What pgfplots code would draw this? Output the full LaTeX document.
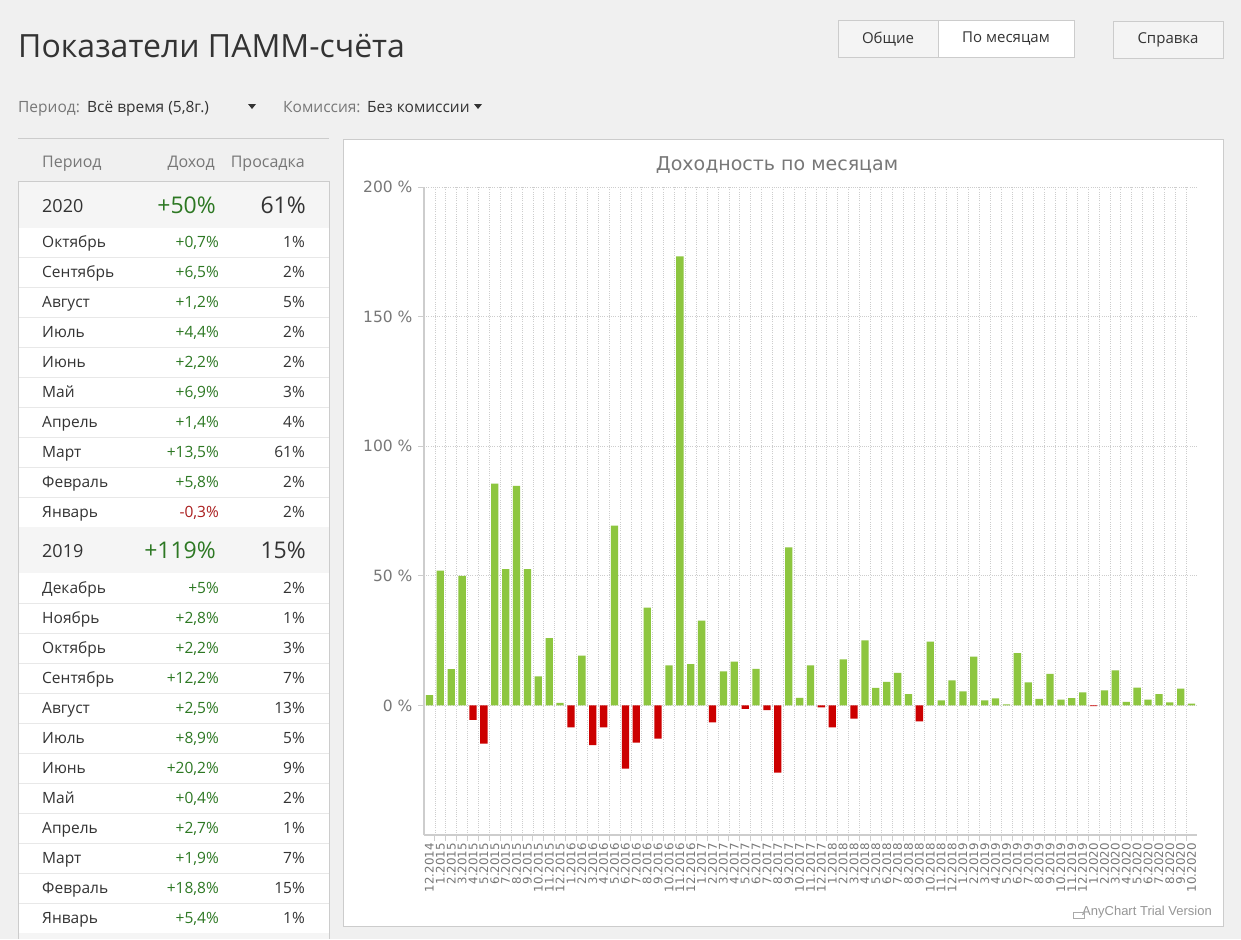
\documentclass[border=0pt]{standalone}
\usepackage{pgfplots}
\pgfplotsset{compat=1.18}
\usepackage{pgfplotstable}
\usepackage{fontspec}
\setmainfont{Open Sans}
\newfontfamily\ui{Open Sans}
\newfontfamily\ac{DejaVu Sans}
\newfontfamily\ar{Liberation Sans}
\newcommand\fs[1]{\fontsize{#1}{#1}\selectfont}

\definecolor{pagebg}{RGB}{240,240,240}
\definecolor{txt}{RGB}{51,51,51}
\definecolor{lbl}{RGB}{119,119,119}
\definecolor{gtxt}{RGB}{45,120,35}
\definecolor{rtxt}{RGB}{170,30,30}
\definecolor{barg}{RGB}{141,198,63}
\definecolor{barr}{RGB}{204,0,0}
\definecolor{rowsep}{RGB}{232,232,232}
\definecolor{yearbg}{RGB}{245,245,245}
\definecolor{boxline}{RGB}{204,204,204}
\definecolor{axgrey}{RGB}{205,205,205}
\definecolor{gridgrey}{RGB}{205,205,205}
\definecolor{btnbg}{RGB}{244,244,244}
\definecolor{trial}{RGB}{150,150,150}
\definecolor{trialicon}{RGB}{170,170,170}

% monthly return, %, 12.2014 ... 10.2020
\pgfplotstableread{
i v
0 4.0
1 52.0
2 14.0
3 50.0
4 -5.6
5 -14.7
6 85.6
7 52.6
8 84.7
9 52.6
10 11.2
11 26.0
12 1.0
13 -8.5
14 19.2
15 -15.3
16 -8.5
17 69.4
18 -24.4
19 -14.4
20 37.7
21 -12.8
22 15.4
23 173.2
24 15.9
25 32.7
26 -6.5
27 13.1
28 16.9
29 -1.3
30 14.1
31 -1.8
32 -25.9
33 61.0
34 2.9
35 15.4
36 -0.8
37 -8.5
38 17.8
39 -5.1
40 25.1
41 6.8
42 9.1
43 12.6
44 4.4
45 -6.2
46 24.6
47 1.9
48 9.7
49 5.4
50 18.8
51 1.9
52 2.7
53 0.4
54 20.2
55 8.9
56 2.5
57 12.2
58 2.2
59 2.8
60 5.0
61 -0.3
62 5.8
63 13.5
64 1.4
65 6.9
66 2.2
67 4.4
68 1.2
69 6.5
70 0.7
}\monthly

% table rows: y centre, name, income, drawdown, colour
\newcommand\mrow[5]{%
  \draw[rowsep] (18,#1+15) -- (329,#1+15);
  \node[anchor=base west,inner sep=0,text=txt,font=\ui\fs{15.5}] at (42,#1+5.5) {#2};
  \node[anchor=base east,inner sep=0,text=#5,font=\ui\fs{15.5}] at (219,#1+5.5) {#3};
  \node[anchor=base east,inner sep=0,text=txt,font=\ui\fs{15.5}] at (305,#1+5.5) {#4};
}
\newcommand\yrow[4]{%
  \fill[yearbg] (18,#1-23) rectangle (329,#1+23);
  \node[anchor=base west,inner sep=0,text=txt,font=\ui\fs{18}] at (42,#1+7) {#2};
  \node[anchor=base east,inner sep=0,text=gtxt,font=\ui\fs{23}] at (216,#1+8.5) {#3};
  \node[anchor=base east,inner sep=0,text=txt,font=\ui\fs{23}] at (306,#1+8.5) {#4};
}

\begin{document}
\begin{tikzpicture}[x=1pt,y=-1pt]
\fill[pagebg] (0,0) rectangle (1241,939);

% header
\node[anchor=base west,inner sep=0,text=txt,font=\ui\fs{32}] at (18,57) {Показатели ПАММ-счёта};
\node[anchor=base west,inner sep=0,text=lbl,font=\ui\fs{15.5}] at (18,112) {Период:};
\node[anchor=base west,inner sep=0,text=txt,font=\ui\fs{15.5}] at (87,112) {Всё время (5,8г.)};
\fill[txt] (248,104) -- (256,104) -- (252,109) -- cycle;
\node[anchor=base west,inner sep=0,text=lbl,font=\ui\fs{15.5}] at (283,112) {Комиссия:};
\node[anchor=base west,inner sep=0,text=txt,font=\ui\fs{15.5}] at (367,112) {Без комиссии};
\fill[txt] (474,104) -- (482,104) -- (478,109) -- cycle;

% buttons
\draw[boxline,fill=btnbg] (838,20) rectangle (938,57);
\node[text=txt,font=\ui\fs{15}] at (888,39) {Общие};
\draw[boxline,fill=white] (938,20) rectangle (1074,57);
\node[text=txt,font=\ui\fs{15}] at (1006,39) {По месяцам};
\draw[boxline,fill=btnbg] (1113,21) rectangle (1223,58);
\node[text=txt,font=\ui\fs{15}] at (1168,40) {Справка};

% table
\draw[boxline] (18,138) -- (329,138);
\node[anchor=base west,inner sep=0,text=lbl,font=\ui\fs{16}] at (42,167) {Период};
\node[anchor=base east,inner sep=0,text=lbl,font=\ui\fs{16}] at (215,167) {Доход};
\node[anchor=base east,inner sep=0,text=lbl,font=\ui\fs{16}] at (305,167) {Просадка};
\fill[white] (18,181) rectangle (329,939);
\yrow{205}{2020}{+50\%}{61\%}
\mrow{242}{Октябрь}{+0,7\%}{1\%}{gtxt}
\mrow{272}{Сентябрь}{+6,5\%}{2\%}{gtxt}
\mrow{302}{Август}{+1,2\%}{5\%}{gtxt}
\mrow{332}{Июль}{+4,4\%}{2\%}{gtxt}
\mrow{362}{Июнь}{+2,2\%}{2\%}{gtxt}
\mrow{392}{Май}{+6,9\%}{3\%}{gtxt}
\mrow{422}{Апрель}{+1,4\%}{4\%}{gtxt}
\mrow{452}{Март}{+13,5\%}{61\%}{gtxt}
\mrow{482}{Февраль}{+5,8\%}{2\%}{gtxt}
\mrow{512}{Январь}{-0,3\%}{2\%}{rtxt}
\yrow{550}{2019}{+119\%}{15\%}
\mrow{588}{Декабрь}{+5\%}{2\%}{gtxt}
\mrow{618}{Ноябрь}{+2,8\%}{1\%}{gtxt}
\mrow{648}{Октябрь}{+2,2\%}{3\%}{gtxt}
\mrow{678}{Сентябрь}{+12,2\%}{7\%}{gtxt}
\mrow{708}{Август}{+2,5\%}{13\%}{gtxt}
\mrow{738}{Июль}{+8,9\%}{5\%}{gtxt}
\mrow{768}{Июнь}{+20,2\%}{9\%}{gtxt}
\mrow{798}{Май}{+0,4\%}{2\%}{gtxt}
\mrow{828}{Апрель}{+2,7\%}{1\%}{gtxt}
\mrow{858}{Март}{+1,9\%}{7\%}{gtxt}
\mrow{888}{Февраль}{+18,8\%}{15\%}{gtxt}
\mrow{918}{Январь}{+5,4\%}{1\%}{gtxt}
\fill[yearbg] (18,933) rectangle (329,939);
\draw[boxline] (18,939) -- (18,181) -- (329,181) -- (329,939);

% chart panel
\draw[boxline,fill=white] (343,139) rectangle (1223,926);
\node[text=lbl,font=\ac\fs{19}] at (777,165) {Доходность по месяцам};
\node[anchor=base east,inner sep=0,text=trial,font=\ar\fs{13}] at (1212,915) {AnyChart Trial Version};
\draw[trialicon] (1073,912) rectangle (1084,918);

\begin{axis}[
  at={(424pt,-835pt)}, anchor=south west,
  scale only axis, width=773pt, height=648pt,
  xmin=-0.5, xmax=70.5, ymin=-50, ymax=200,
  axis x line*=bottom, axis y line*=left,
  axis line style={draw=axgrey, line width=1.3pt, -},
  tick align=outside,
  major tick length=6pt, minor tick length=6pt,
  xtick={0,...,70},
  xticklabels={12.2014,
    1.2015,2.2015,3.2015,4.2015,5.2015,6.2015,7.2015,8.2015,9.2015,10.2015,11.2015,12.2015,
    1.2016,2.2016,3.2016,4.2016,5.2016,6.2016,7.2016,8.2016,9.2016,10.2016,11.2016,12.2016,
    1.2017,2.2017,3.2017,4.2017,5.2017,6.2017,7.2017,8.2017,9.2017,10.2017,11.2017,12.2017,
    1.2018,2.2018,3.2018,4.2018,5.2018,6.2018,7.2018,8.2018,9.2018,10.2018,11.2018,12.2018,
    1.2019,2.2019,3.2019,4.2019,5.2019,6.2019,7.2019,8.2019,9.2019,10.2019,11.2019,12.2019,
    1.2020,2.2020,3.2020,4.2020,5.2020,6.2020,7.2020,8.2020,9.2020,10.2020},
  major x tick style={draw=none},
  minor x tick num=1,
  minor x tick style={draw=axgrey, line width=0.8pt},
  xminorgrids,
  minor x grid style={draw=gridgrey, line width=0.7pt, dash pattern=on 1pt off 1.2pt},
  xticklabel style={rotate=90, anchor=east, text=lbl, font=\ac\fs{11.8}, inner sep=2pt},
  ytick={0,50,100,150,200},
  yticklabels={0 \%,50 \%,100 \%,150 \%,200 \%},
  y tick style={draw=axgrey, line width=0.8pt},
  ymajorgrids,
  major y grid style={draw=gridgrey, line width=0.7pt, dash pattern=on 1pt off 1.2pt},
  yticklabel style={text=lbl, font=\ac\fs{15.5}, xshift=-2pt},
]
\addplot[ybar, bar width=7.3pt, bar shift=0pt, fill=barg, draw=none,
  restrict y to domain=0:300] table[x=i, y=v] {\monthly};
\addplot[ybar, bar width=7.3pt, bar shift=0pt, fill=barr, draw=none,
  restrict y to domain=-100:0] table[x=i, y=v] {\monthly};
\end{axis}
\end{tikzpicture}
\end{document}
